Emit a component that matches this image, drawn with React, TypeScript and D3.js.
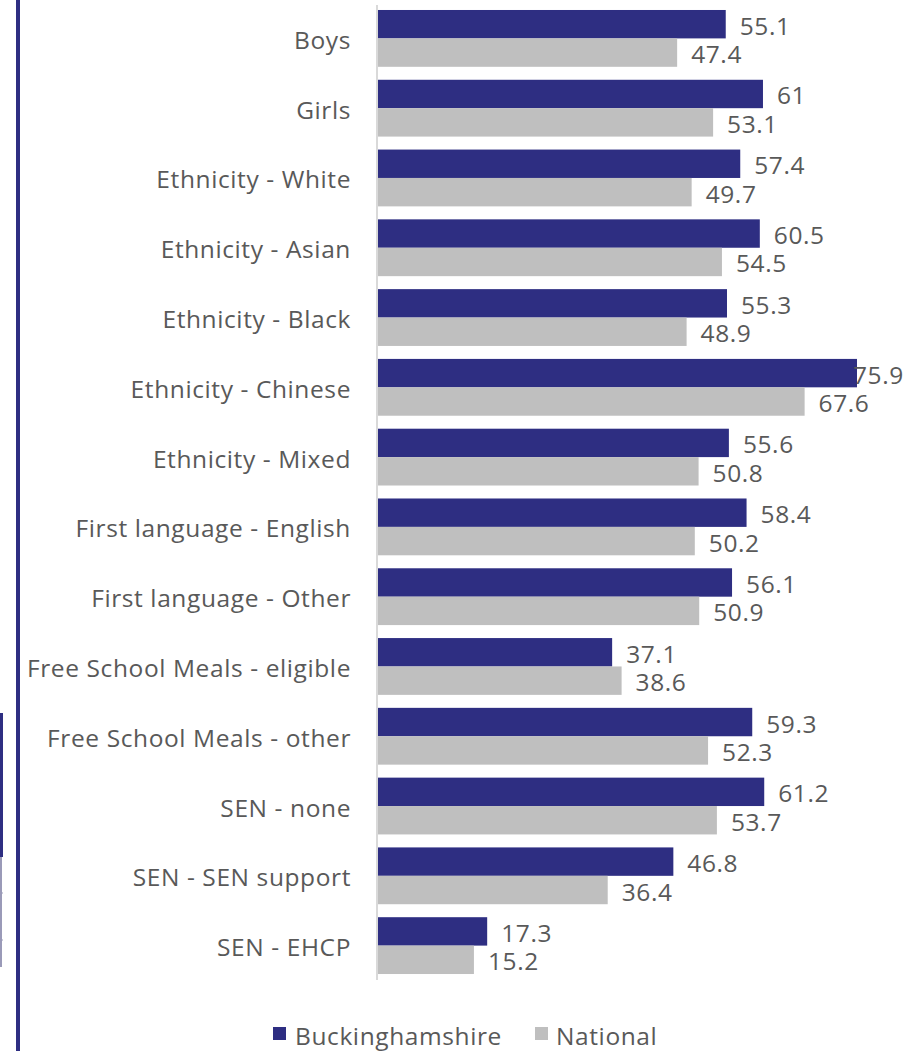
import React from "react";
import * as d3 from "d3";

const categories = [
  "Boys",
  "Girls",
  "Ethnicity - White",
  "Ethnicity - Asian",
  "Ethnicity - Black",
  "Ethnicity - Chinese",
  "Ethnicity - Mixed",
  "First language - English",
  "First language - Other",
  "Free School Meals - eligible",
  "Free School Meals - other",
  "SEN - none",
  "SEN - SEN support",
  "SEN - EHCP",
];
const buckinghamshire = [55.1, 61, 57.4, 60.5, 55.3, 75.9, 55.6, 58.4, 56.1, 37.1, 59.3, 61.2, 46.8, 17.3];
const national = [47.4, 53.1, 49.7, 54.5, 48.9, 67.6, 50.8, 50.2, 50.9, 38.6, 52.3, 53.7, 36.4, 15.2];
const seriesNames = ["Buckinghamshire", "National"];

const W = 904;
const H = 1051;
const BLUE = "#2E2E82";
const GRAY = "#BFBFBF";
const TEXT = "#595959";
const FONT = "'Open Sans', Lato, sans-serif";
const FS = 24.5;
const LS = 0.6;

export default function App() {
  const x = d3.scaleLinear().domain([0, 75.9]).range([378, 857]);
  const y = d3.scaleBand<string>().domain(categories).range([3.5, 980.5]).paddingInner(0.186).paddingOuter(0.093);
  const bh = y.bandwidth() / 2;
  const labelW = 50;
  return (
    <svg width={W} height={H} style={{ position: "absolute", left: 0, top: 0, background: "#fff" }}>
      <rect x={16} y={0} width={4} height={H} fill={BLUE} />
      <rect x={0} y={713} width={3} height={144} fill={BLUE} />
      <rect x={0} y={857} width={2} height={110} fill="#9a9ab8" />
      <line x1={0} x2={3} y1={893} y2={893} stroke="#9a9ab8" />
      <line x1={0} x2={3} y1={940} y2={940} stroke="#9a9ab8" />
      <line x1={x(0) - 1} x2={x(0) - 1} y1={5} y2={980} stroke="#D9D9D9" strokeWidth={2} />
      {categories.map((c, i) => {
        const y0 = y(c)!;
        const vals = [buckinghamshire[i], national[i]];
        return (
          <g key={c}>
            <text
              x={351}
              y={y0 + bh + 1}
              textAnchor="end"
              dominantBaseline="central"
              fontFamily={FONT}
              fontSize={FS}
              letterSpacing={LS}
              fill={TEXT}
            >
              {c}
            </text>
            {vals.map((v, j) => {
              const end = x(v);
              const lx = Math.min(end + 14, 903 - labelW);
              return (
                <g key={j}>
                  <rect x={x(0)} y={y0 + j * bh} width={end - x(0)} height={bh} fill={j === 0 ? BLUE : GRAY} />
                  <text
                    x={lx}
                    y={y0 + j * bh + bh / 2 + 1}
                    dominantBaseline="central"
                    fontFamily={FONT}
                    fontSize={FS}
                    letterSpacing={LS}
                    fill={TEXT}
                  >
                    {String(v)}
                  </text>
                </g>
              );
            })}
          </g>
        );
      })}
      <g>
        <rect x={273} y={1027} width={13} height={13} fill={BLUE} />
        <text x={295} y={1035} dominantBaseline="central" fontFamily={FONT} fontSize={FS} letterSpacing={LS} fill={TEXT}>
          {seriesNames[0]}
        </text>
        <rect x={535} y={1027} width={13} height={13} fill={GRAY} />
        <text x={556} y={1035} dominantBaseline="central" fontFamily={FONT} fontSize={FS} letterSpacing={LS} fill={TEXT}>
          {seriesNames[1]}
        </text>
      </g>
    </svg>
  );
}
